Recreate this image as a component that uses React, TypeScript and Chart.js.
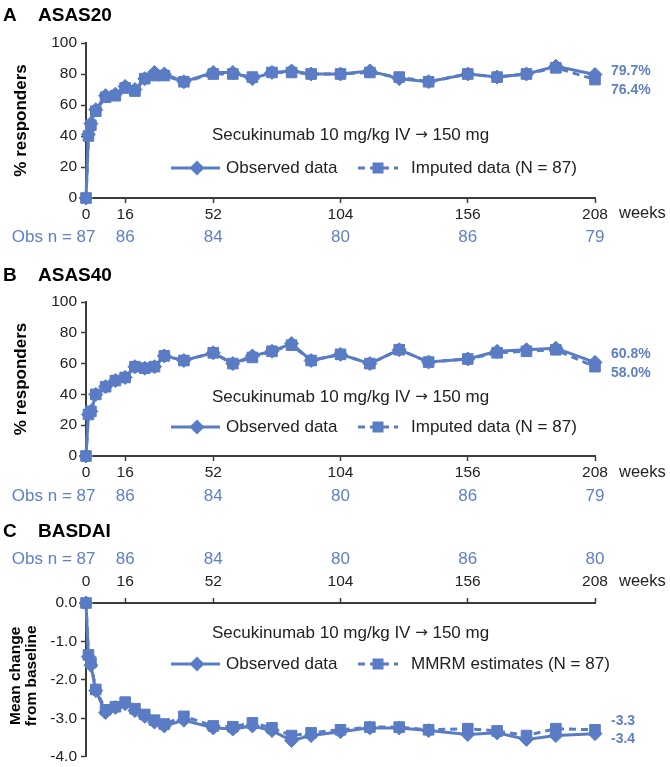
import React, { useEffect, useRef } from "react";
import { Chart, registerables } from "chart.js";

Chart.register(...registerables);

// ---------- DATA ----------
const weeks = [0, 1, 2, 4, 8, 12, 16, 20, 24, 28, 32, 40, 52, 60, 68, 76, 84, 92, 104, 116, 128, 140, 156, 168, 180, 192, 208];
const xTickValues = [0, 16, 52, 104, 156, 208];
const asasYTicks = [0, 20, 40, 60, 80, 100];
const basdaiYTicks = [0, -1, -2, -3, -4];

const asas20Observed = [0, 41, 48, 57, 66, 67, 72, 70, 77, 81, 80, 75, 81, 81, 77, 81, 82, 80, 80, 82, 77, 75, 80, 78, 80, 85, 79.7];
const asas20Imputed = [0, 40, 47, 56, 65, 66, 71, 69, 77, 79, 79, 75, 80, 80, 78, 81, 81, 80, 80, 81, 78, 75, 80, 78, 80, 84, 76.4];

const asas40Observed = [0, 27, 29, 40, 45, 49, 51, 58, 57, 58, 65, 62, 67, 60, 65, 68, 73, 62, 66, 60, 69, 61, 63, 68, 69, 70, 60.8];
const asas40Imputed = [0, 27, 29, 40, 45, 49, 51, 58, 57, 58, 65, 62, 67, 60, 64, 68, 72, 62, 66, 60, 69, 61, 63, 67, 68, 69, 58.0];

const basdaiObserved = [0, -1.4, -1.62, -2.28, -2.85, -2.72, -2.62, -2.8, -2.95, -3.1, -3.2, -3.05, -3.25, -3.28, -3.2, -3.32, -3.58, -3.45, -3.35, -3.25, -3.25, -3.32, -3.42, -3.38, -3.55, -3.45, -3.4];
const basdaiMmrm = [0, -1.35, -1.55, -2.25, -2.78, -2.7, -2.58, -2.75, -2.9, -3.05, -3.15, -2.95, -3.2, -3.22, -3.12, -3.25, -3.45, -3.38, -3.3, -3.23, -3.23, -3.3, -3.27, -3.33, -3.45, -3.27, -3.3];

const obsNResponders = [87, 86, 84, 80, 86, 79];
const obsNBasdai = [87, 86, 84, 80, 86, 80];

const asas20EndLabels = ["79.7%", "76.4%"];
const asas40EndLabels = ["60.8%", "58.0%"];
const basdaiEndLabels = ["-3.3", "-3.4"];

// ---------- STYLE ----------
const FONT = '"Liberation Sans", Arial, Helvetica, sans-serif';
const BLUE = "#5a7cc4";
const TEXT_BLUE = "#5f80c6";
const AXIS = "#3c3c3c";
const SUBTITLE_PARTS = ["Secukinumab 10 mg/kg IV ", "\u2192", " 150 mg"];

type Panel = {
  letter: string;
  title: string;
  yTitle: string[];
  observed: number[];
  second: number[];
  secondLabel: string;
  yTicks: number[];
  decimals: number;
  xTop: boolean;
  obsN: number[];
  endLabels: string[];
  canvasTop: number;
  canvasHeight: number;
  padTop: number;
  padBottom: number;
  xAxisHeight: number;
  xTickPad: number;
  titleY: number;
  subtitleY: number;
  legendY: number;
  obsNY: number;
  weeksY: number;
  endY: number[];
};

const panels: Panel[] = [
  {
    letter: "A",
    title: "ASAS20",
    yTitle: ["% responders"],
    observed: asas20Observed,
    second: asas20Imputed,
    secondLabel: "Imputed data (N = 87)",
    yTicks: asasYTicks,
    decimals: 0,
    xTop: false,
    obsN: obsNResponders,
    endLabels: asas20EndLabels,
    canvasTop: 0,
    canvasHeight: 250,
    padTop: 43,
    padBottom: 0,
    xAxisHeight: 52,
    xTickPad: 2,
    titleY: 16,
    subtitleY: 135,
    legendY: 168,
    obsNY: 237,
    weeksY: 213,
    endY: [71, 90],
  },
  {
    letter: "B",
    title: "ASAS40",
    yTitle: ["% responders"],
    observed: asas40Observed,
    second: asas40Imputed,
    secondLabel: "Imputed data (N = 87)",
    yTicks: asasYTicks,
    decimals: 0,
    xTop: false,
    obsN: obsNResponders,
    endLabels: asas40EndLabels,
    canvasTop: 250,
    canvasHeight: 264,
    padTop: 52,
    padBottom: 0,
    xAxisHeight: 58,
    xTickPad: 2,
    titleY: 26,
    subtitleY: 147,
    legendY: 177,
    obsNY: 246,
    weeksY: 222,
    endY: [104, 123],
  },
  {
    letter: "C",
    title: "BASDAI",
    yTitle: ["Mean change", "from baseline"],
    observed: basdaiObserved,
    second: basdaiMmrm,
    secondLabel: "MMRM estimates (N = 87)",
    yTicks: basdaiYTicks,
    decimals: 1,
    xTop: true,
    obsN: obsNBasdai,
    endLabels: basdaiEndLabels,
    canvasTop: 500,
    canvasHeight: 270,
    padTop: 0,
    padBottom: 12,
    xAxisHeight: 103,
    xTickPad: 7,
    titleY: 32,
    subtitleY: 133,
    legendY: 164,
    obsNY: 59,
    weeksY: 81,
    endY: [221, 239],
  },
];

function drawDiamond(ctx: CanvasRenderingContext2D, x: number, y: number, r: number) {
  ctx.beginPath();
  ctx.moveTo(x, y - r);
  ctx.lineTo(x + r, y);
  ctx.lineTo(x, y + r);
  ctx.lineTo(x - r, y);
  ctx.closePath();
  ctx.fill();
}

function makeTextPlugin(p: Panel) {
  return {
    id: "panelText" + p.letter,
    afterDraw(chart: any) {
      const ctx: CanvasRenderingContext2D = chart.ctx;
      const area = chart.chartArea;
      const xs = chart.scales.x;
      ctx.save();

      // Panel letter + title
      ctx.fillStyle = "#000";
      ctx.textBaseline = "middle";
      ctx.textAlign = "left";
      ctx.font = `bold 19px ${FONT}`;
      ctx.fillText(p.letter, 3, p.titleY);
      ctx.fillText(p.title, 38, p.titleY);

      // Y-axis title (rotated)
      ctx.font = `bold ${p.yTitle.length > 1 ? 15.5 : 17}px ${FONT}`;
      const cy = (area.top + area.bottom) / 2;
      const xsTitle = p.yTitle.length > 1 ? [16, 32] : [21];
      p.yTitle.forEach((t, i) => {
        ctx.save();
        ctx.translate(xsTitle[i], cy - (p.yTitle.length > 1 ? 4 : 0));
        ctx.rotate(-Math.PI / 2);
        ctx.textAlign = "center";
        ctx.textBaseline = "middle";
        ctx.fillText(t, 0, 0);
        ctx.restore();
      });

      // "weeks"
      ctx.font = `16.5px ${FONT}`;
      ctx.fillStyle = "#222";
      ctx.textAlign = "left";
      ctx.textBaseline = "middle";
      ctx.fillText("weeks", 619, p.weeksY);

      // Obs n row
      ctx.font = `17px ${FONT}`;
      ctx.fillStyle = TEXT_BLUE;
      ctx.textAlign = "center";
      xTickValues.forEach((v, i) => {
        ctx.fillText(String(p.obsN[i]), xs.getPixelForValue(v), p.obsNY);
      });
      const firstW = ctx.measureText(String(p.obsN[0])).width;
      ctx.textAlign = "right";
      ctx.fillText("Obs n = ", xs.getPixelForValue(0) - firstW / 2, p.obsNY);

      // Subtitle: text, thin arrow glyph, text
      ctx.fillStyle = "#222";
      ctx.textAlign = "left";
      let sx = 212;
      ctx.font = `17px ${FONT}`;
      ctx.fillText(SUBTITLE_PARTS[0], sx, p.subtitleY);
      sx += ctx.measureText(SUBTITLE_PARTS[0]).width;
      ctx.font = `15px "Noto Sans", "DejaVu Sans", sans-serif`;
      ctx.fillText(SUBTITLE_PARTS[1], sx, p.subtitleY);
      sx += ctx.measureText(SUBTITLE_PARTS[1]).width;
      ctx.font = `17px ${FONT}`;
      ctx.fillText(SUBTITLE_PARTS[2], sx, p.subtitleY);

      // Legend
      const ly = p.legendY;
      ctx.strokeStyle = BLUE;
      ctx.fillStyle = BLUE;
      ctx.lineWidth = 3;
      ctx.setLineDash([]);
      ctx.beginPath();
      ctx.moveTo(171, ly);
      ctx.lineTo(220, ly);
      ctx.stroke();
      drawDiamond(ctx, 197, ly, 7.5);
      ctx.setLineDash([7, 5]);
      ctx.beginPath();
      ctx.moveTo(358, ly);
      ctx.lineTo(398, ly);
      ctx.stroke();
      ctx.setLineDash([]);
      ctx.fillRect(372.5, ly - 5.5, 11, 11);
      ctx.fillStyle = "#222";
      ctx.font = `17px ${FONT}`;
      ctx.fillText("Observed data", 226, ly);
      ctx.fillText(p.secondLabel, 411, ly);

      // End labels
      ctx.font = `bold 14px ${FONT}`;
      ctx.fillStyle = TEXT_BLUE;
      ctx.fillText(p.endLabels[0], 611, p.endY[0]);
      ctx.fillText(p.endLabels[1], 611, p.endY[1]);

      ctx.restore();
    },
  };
}

function makeConfig(p: Panel): any {
  const toPts = (arr: number[]) => weeks.map((w, i) => ({ x: w, y: arr[i] }));
  const tickFont = { family: FONT, size: 15.5 };
  const gridCommon = {
    display: true,
    drawOnChartArea: false,
    drawTicks: true,
    tickLength: 5,
    tickWidth: 1.5,
    tickColor: AXIS,
    color: AXIS,
  };
  return {
    type: "line",
    data: {
      datasets: [
        {
          label: p.secondLabel,
          data: toPts(p.second),
          borderColor: BLUE,
          backgroundColor: BLUE,
          borderWidth: 3,
          borderDash: [7, 5],
          pointStyle: "rect",
          pointRadius: 7.5,
          pointBorderWidth: 1,
          pointBackgroundColor: BLUE,
          pointBorderColor: BLUE,
          tension: 0,
          clip: false,
        },
        {
          label: "Observed data",
          data: toPts(p.observed),
          borderColor: BLUE,
          backgroundColor: BLUE,
          borderWidth: 3,
          pointStyle: "rectRot",
          pointRadius: 7,
          pointBorderWidth: 1,
          pointBackgroundColor: BLUE,
          pointBorderColor: BLUE,
          tension: 0,
          clip: false,
        },
      ],
    },
    options: {
      responsive: false,
      animation: false,
      events: [],
      layout: { padding: { left: 0, right: 75, top: p.padTop, bottom: p.padBottom } },
      plugins: { legend: { display: false }, tooltip: { enabled: false }, title: { display: false } },
      scales: {
        x: {
          type: "linear",
          position: p.xTop ? "top" : "bottom",
          min: 0,
          max: 208,
          afterBuildTicks: (s: any) => {
            s.ticks = xTickValues.map((v) => ({ value: v }));
          },
          afterFit: (s: any) => {
            s.height = p.xAxisHeight;
          },
          ticks: {
            autoSkip: false,
            maxRotation: 0,
            padding: p.xTickPad,
            color: "#222",
            font: tickFont,
            callback: (v: any) => String(v),
          },
          grid: gridCommon,
          border: { display: true, color: AXIS, width: 2 },
        },
        y: {
          type: "linear",
          min: Math.min(...p.yTicks),
          max: Math.max(...p.yTicks),
          afterBuildTicks: (s: any) => {
            s.ticks = p.yTicks.map((v) => ({ value: v }));
          },
          afterFit: (s: any) => {
            s.width = 86;
          },
          ticks: {
            padding: 4,
            color: "#222",
            font: tickFont,
            callback: (v: any) => Number(v).toFixed(p.decimals),
          },
          grid: gridCommon,
          border: { display: true, color: AXIS, width: 2 },
        },
      },
    },
    plugins: [makeTextPlugin(p)],
  };
}

function PanelChart({ p }: { p: Panel }) {
  const ref = useRef<HTMLCanvasElement | null>(null);
  useEffect(() => {
    if (!ref.current) return;
    const chart = new Chart(ref.current, makeConfig(p));
    return () => chart.destroy();
  }, [p]);
  return (
    <canvas
      ref={ref}
      width={670}
      height={p.canvasHeight}
      style={{ position: "absolute", left: 0, top: p.canvasTop, width: 670, height: p.canvasHeight }}
    />
  );
}

export default function App() {
  return (
    <div style={{ position: "absolute", left: 0, top: 0, width: 670, height: 767, background: "#fff", overflow: "hidden" }}>
      {panels.map((p) => (
        <PanelChart key={p.letter} p={p} />
      ))}
    </div>
  );
}
